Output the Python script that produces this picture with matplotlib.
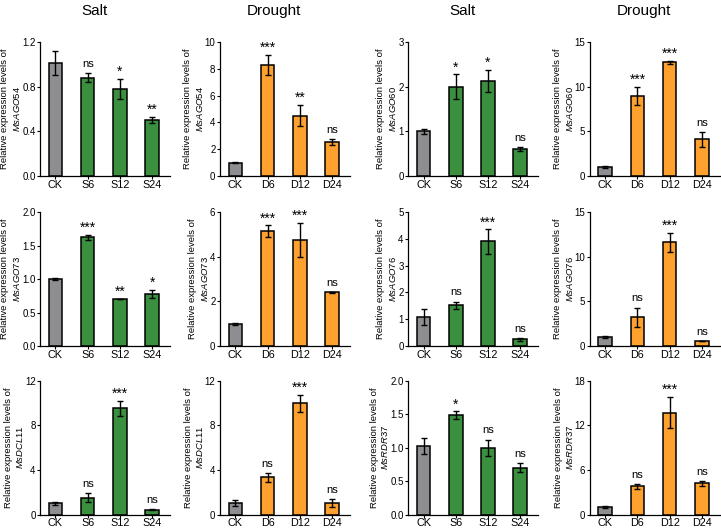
import matplotlib
matplotlib.use("Agg")
import matplotlib.pyplot as plt

plt.rcParams['font.family'] = ['Liberation Sans', 'DejaVu Sans']
plt.rcParams['mathtext.fontset'] = 'custom'
plt.rcParams['mathtext.it'] = 'Liberation Sans:italic'
plt.rcParams['mathtext.rm'] = 'Liberation Sans'

# group labels
salt_groups = ["CK", "S6", "S12", "S24"]
drought_groups = ["CK", "D6", "D12", "D24"]

# row 1
ago54_salt = [1.01, 0.88, 0.78, 0.50]
ago54_salt_err = [0.11, 0.04, 0.09, 0.03]
ago54_salt_sig = ["", "ns", "*", "**"]
ago54_salt_ticks = ["0.0", "0.4", "0.8", "1.2"]

ago54_drought = [1.0, 8.3, 4.5, 2.55]
ago54_drought_err = [0.05, 0.75, 0.8, 0.22]
ago54_drought_sig = ["", "***", "**", "ns"]
ago54_drought_ticks = ["0", "2", "4", "6", "8", "10"]

ago60_salt = [1.0, 2.0, 2.12, 0.6]
ago60_salt_err = [0.06, 0.27, 0.25, 0.04]
ago60_salt_sig = ["", "*", "*", "ns"]
ago60_salt_ticks = ["0", "1", "2", "3"]

ago60_drought = [1.0, 8.95, 12.7, 4.1]
ago60_drought_err = [0.1, 1.05, 0.15, 0.85]
ago60_drought_sig = ["", "***", "***", "ns"]
ago60_drought_ticks = ["0", "5", "10", "15"]

# row 2
ago73_salt = [1.0, 1.62, 0.70, 0.78]
ago73_salt_err = [0.01, 0.04, 0.005, 0.06]
ago73_salt_sig = ["", "***", "**", "*"]
ago73_salt_ticks = ["0.0", "0.5", "1.0", "1.5", "2.0"]

ago73_drought = [1.0, 5.15, 4.75, 2.4]
ago73_drought_err = [0.05, 0.25, 0.78, 0.03]
ago73_drought_sig = ["", "***", "***", "ns"]
ago73_drought_ticks = ["0", "2", "4", "6"]

ago76_salt = [1.1, 1.53, 3.9, 0.25]
ago76_salt_err = [0.3, 0.13, 0.45, 0.05]
ago76_salt_sig = ["", "ns", "***", "ns"]
ago76_salt_ticks = ["0", "1", "2", "3", "4", "5"]

ago76_drought = [1.0, 3.2, 11.6, 0.55]
ago76_drought_err = [0.1, 1.1, 1.1, 0.02]
ago76_drought_sig = ["", "ns", "***", "ns"]
ago76_drought_ticks = ["0", "5", "10", "15"]

# row 3
dcl11_salt = [1.0, 1.5, 9.5, 0.45]
dcl11_salt_err = [0.15, 0.4, 0.65, 0.03]
dcl11_salt_sig = ["", "ns", "***", "ns"]
dcl11_salt_ticks = ["0", "4", "8", "12"]

dcl11_drought = [1.05, 3.35, 9.95, 1.05]
dcl11_drought_err = [0.3, 0.4, 0.75, 0.35]
dcl11_drought_sig = ["", "ns", "***", "ns"]
dcl11_drought_ticks = ["0", "4", "8", "12"]

rdr37_salt = [1.02, 1.48, 1.0, 0.7]
rdr37_salt_err = [0.12, 0.06, 0.12, 0.07]
rdr37_salt_sig = ["", "*", "ns", "ns"]
rdr37_salt_ticks = ["0.0", "0.5", "1.0", "1.5", "2.0"]

rdr37_drought = [1.0, 3.8, 13.7, 4.2]
rdr37_drought_err = [0.15, 0.3, 2.1, 0.3]
rdr37_drought_sig = ["", "ns", "***", "ns"]
rdr37_drought_ticks = ["0", "6", "12", "18"]

GRAY = '#8e8e92'
GREEN = '#3a903f'
ORANGE = '#ffa12f'

panels = [
    # (row, col, gene, stress, groups, means, errs, sig, ticks)
    (0, 0, "MsAGO54", "Salt", salt_groups, ago54_salt, ago54_salt_err, ago54_salt_sig, ago54_salt_ticks),
    (0, 1, "MsAGO54", "Drought", drought_groups, ago54_drought, ago54_drought_err, ago54_drought_sig, ago54_drought_ticks),
    (0, 2, "MsAGO60", "Salt", salt_groups, ago60_salt, ago60_salt_err, ago60_salt_sig, ago60_salt_ticks),
    (0, 3, "MsAGO60", "Drought", drought_groups, ago60_drought, ago60_drought_err, ago60_drought_sig, ago60_drought_ticks),
    (1, 0, "MsAGO73", "Salt", salt_groups, ago73_salt, ago73_salt_err, ago73_salt_sig, ago73_salt_ticks),
    (1, 1, "MsAGO73", "Drought", drought_groups, ago73_drought, ago73_drought_err, ago73_drought_sig, ago73_drought_ticks),
    (1, 2, "MsAGO76", "Salt", salt_groups, ago76_salt, ago76_salt_err, ago76_salt_sig, ago76_salt_ticks),
    (1, 3, "MsAGO76", "Drought", drought_groups, ago76_drought, ago76_drought_err, ago76_drought_sig, ago76_drought_ticks),
    (2, 0, "MsDCL11", "Salt", salt_groups, dcl11_salt, dcl11_salt_err, dcl11_salt_sig, dcl11_salt_ticks),
    (2, 1, "MsDCL11", "Drought", drought_groups, dcl11_drought, dcl11_drought_err, dcl11_drought_sig, dcl11_drought_ticks),
    (2, 2, "MsRDR37", "Salt", salt_groups, rdr37_salt, rdr37_salt_err, rdr37_salt_sig, rdr37_salt_ticks),
    (2, 3, "MsRDR37", "Drought", drought_groups, rdr37_drought, rdr37_drought_err, rdr37_drought_sig, rdr37_drought_ticks),
]

fig = plt.figure(figsize=(7.21, 5.30), dpi=100)

lefts = [0.0555, 0.305, 0.566, 0.818]
bottoms = [0.668, 0.347, 0.029]
w, h = 0.18, 0.253

for row, col, gene, stress, groups, means, errs, sig, ticks in panels:
    ax = fig.add_axes([lefts[col], bottoms[row], w, h])
    xs = list(range(len(groups)))
    colors = [GRAY] + [GREEN if stress == "Salt" else ORANGE] * (len(groups) - 1)
    ax.bar(xs, means, width=0.42, color=colors, edgecolor='black', linewidth=1.1, zorder=2)
    ax.errorbar(xs, means, yerr=errs, fmt='none', ecolor='black', elinewidth=1,
                capsize=2, capthick=1, zorder=3)
    for x, m, e, s in zip(xs, means, errs, sig):
        if s == "ns":
            ax.annotate(s, xy=(x, m + e), xytext=(0, 3), textcoords='offset points',
                        ha='center', va='bottom', fontsize=8)
        elif s:
            ax.annotate(s, xy=(x, m + e), xytext=(0, 0), textcoords='offset points',
                        ha='center', va='bottom', fontsize=10)

    yt = [float(t) for t in ticks]
    ax.set_ylim(0, yt[-1])
    ax.set_yticks(yt)
    ax.set_yticklabels(ticks, fontsize=7)
    ax.set_xlim(-0.48, 3.55)
    ax.set_xticks(xs)
    ax.set_xticklabels(groups, fontsize=7.8)
    ax.tick_params(length=2.2, width=0.8, pad=1)
    ax.tick_params(axis='x', pad=0.5)
    for side in ['top', 'right']:
        ax.spines[side].set_visible(False)
    for side in ['left', 'bottom']:
        ax.spines[side].set_linewidth(0.9)
    ax.set_ylabel("Relative expression levels of\n$\\mathit{%s}$" % gene, fontsize=6.8,
                  labelpad=0, linespacing=1.2)
    if row == 0:
        ax.set_title(stress, fontsize=11, x=0.42, pad=19)

fig.savefig('out.png', dpi=100)
